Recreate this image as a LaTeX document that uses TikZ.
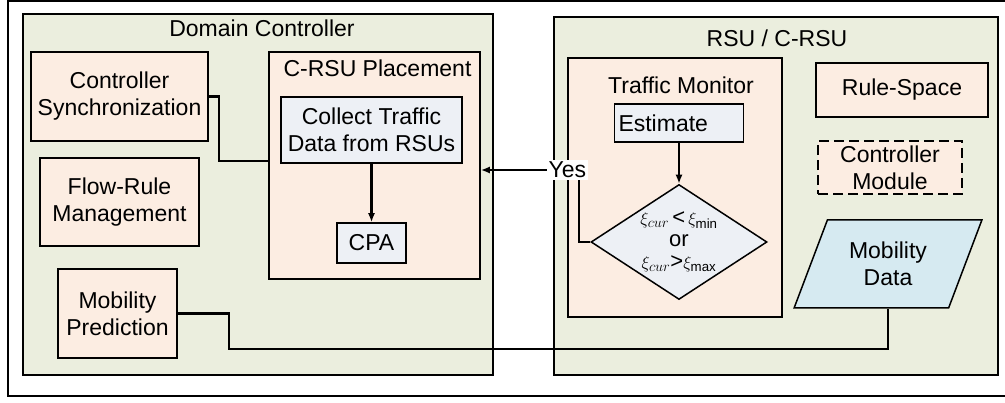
\documentclass[tikz,border=0pt]{standalone}
\usepackage{fontspec}
\setmainfont{Liberation Sans}
\usepackage{tikz}
\usetikzlibrary{positioning,arrows.meta,shapes.geometric}

\definecolor{zonegreen}{RGB}{235,238,222}
\definecolor{unitorange}{RGB}{252,237,226}
\definecolor{stepgrey}{RGB}{237,240,245}
\definecolor{datablue}{RGB}{214,234,241}

\begin{document}
\begin{tikzpicture}[
    x=1pt, y=-1pt,
    font=\fontsize{23}{27}\selectfont,
    >={Latex[length=9pt,width=7pt]},
    zone/.style={draw, line width=1.5pt, fill=zonegreen, inner sep=0pt},
    unit/.style={draw, line width=1.5pt, fill=unitorange, align=center, inner sep=0pt},
    task/.style={draw, line width=1.5pt, fill=stepgrey, align=center, inner sep=0pt},
    decision/.style={draw, diamond, line width=1.5pt, fill=stepgrey, inner sep=0pt},
    dataio/.style={draw, trapezium, trapezium left angle=64, trapezium right angle=116,
        trapezium stretches=true, line width=1.5pt, fill=datablue, align=center, inner sep=0pt},
    wire/.style={draw, line width=2.2pt}
]

\useasboundingbox (0,0) rectangle (1005,403);

% outer frame
\draw[line width=2pt] (8,1) rectangle (1020,396);

% Domain controller side
\node[zone, minimum width=470pt, minimum height=361pt] (dc) at (258,194.5) {};
\node (dctitle) at (262,28) {Domain Controller};

\node[unit, minimum width=177pt, minimum height=89pt] (sync) at (119.5,96.5) {Controller\\Synchronization};
\node[unit, minimum width=159pt, minimum height=88pt] (flow) at (119.5,202) {Flow-Rule\\Management};
\node[unit, minimum width=119pt, minimum height=89pt] (mpred) at (117.5,313.5) {Mobility\\Prediction};

\node[unit, minimum width=211pt, minimum height=227pt] (place) at (374.5,165.5) {};
\node (placetitle) at (377.5,68) {C-RSU Placement};
\node[task, minimum width=181pt, minimum height=66pt] (collect) at (371.5,130) {Collect Traffic\\Data from RSUs};
\node[task, minimum width=69pt, minimum height=40pt] (cpa) at (371.5,243) {CPA};

% RSU side
\node[zone, minimum width=444pt, minimum height=358pt] (rsu) at (776,196) {};
\node (rsutitle) at (777,38) {RSU / C-RSU};

\node[unit, minimum width=214pt, minimum height=259pt] (monitor) at (675,187.5) {};
\node (montitle) at (681,85) {Traffic Monitor};
\node[task, text width=121pt, align=left, inner sep=4pt, minimum height=38pt] (estimate) at (679,123) {Estimate};
\node[decision, minimum width=176pt, minimum height=115pt] (check) at (679,242) {};
\node[align=center, font=\fontsize{19}{22}\selectfont] (cond) at (check) {%
    $\xi_{cur}$\,{\fontsize{22}{22}\selectfont<}\,$\xi_{\min}$\\
    {\fontsize{22}{22}\selectfont or}\\
    $\xi_{cur}${\fontsize{22}{22}\selectfont>}$\xi_{\max}$};

\node[unit, minimum width=172pt, minimum height=54pt] (rule) at (902,90) {Rule-Space};
\node[unit, dashed, dash pattern=on 10pt off 5pt, minimum width=144pt, minimum height=53pt] (cmod) at (890,167.5) {Controller\\Module};
\node[dataio, minimum width=188pt, minimum height=88pt] (mdata) at (888,264) {Mobility\\Data};

% connectors
\path[wire] (sync.east) -- ++(10,0) |- (place.west |- 0,161);
\path[wire,->] (collect) -- (cpa);
\path[wire,->] (estimate) -- (check);
\path[wire,->] (check.west) -- ++(-11,0) |- node[pos=0.56, fill=white, inner sep=2pt] (yes) {Yes} (place.east |- 0,170);
\path[wire] (mpred.east) -- ++(51,0) |- (mdata.center |- 0,349) -- (mdata.center |- mdata.bottom side);

\end{tikzpicture}
\end{document}
